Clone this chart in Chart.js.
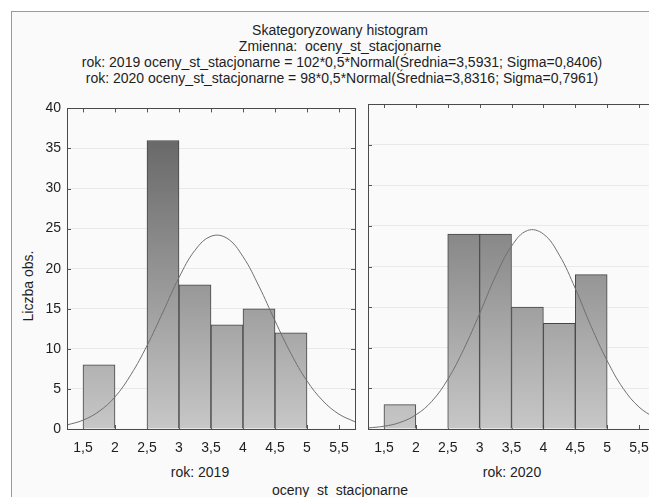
<!DOCTYPE html>
<html>
<head>
<meta charset="utf-8">
<script src="https://cdn.jsdelivr.net/npm/chart.js@4/dist/chart.umd.min.js"></script>
<style>
  html, body { margin: 0; width: 649px; height: 497px; overflow: hidden; background: #fff; }
  body { position: relative; font-family: "Liberation Sans", Arial, sans-serif; color: #1e1e1e; }
  #frame { position: absolute; left: 11px; top: 11px; width: 720px; height: 540px; border: 1px solid #9a9a9a; background: #fafafa; }
  .txt { position: absolute; font-size: 14px; white-space: nowrap; transform: translate(-50%, -50%); }
  .ylabel { transform: translate(-50%, -50%) rotate(-90deg); }
  canvas { position: absolute; top: 94px; }
  #left { left: 0; }
  #right { left: 362px; }
</style>
</head>
<body>
<div id="frame"></div>
<div class="txt" style="left:340px;top:30px">Skategoryzowany histogram</div>
<div class="txt" style="left:340px;top:46px">Zmienna:&nbsp; oceny_st_stacjonarne</div>
<div class="txt" style="left:342px;top:62px">rok: 2019 oceny_st_stacjonarne = 102*0,5*Normal(Średnia=3,5931; Sigma=0,8406)</div>
<div class="txt" style="left:342px;top:78px">rok: 2020 oceny_st_stacjonarne = 98*0,5*Normal(Średnia=3,8316; Sigma=0,7961)</div>
<div class="txt ylabel" style="left:28px;top:286px">Liczba obs.</div>
<div class="txt" style="left:200px;top:472px">rok: 2019</div>
<div class="txt" style="left:512px;top:472px">rok: 2020</div>
<div class="txt" style="left:340px;top:490px">oceny_st_stacjonarne</div>

<canvas id="left" width="362" height="370"></canvas>
<canvas id="right" width="300" height="370"></canvas>

<script>
const binCenters = [1.75, 2.25, 2.75, 3.25, 3.75, 4.25, 4.75];
const counts2019 = [8, 0, 36, 18, 13, 15, 12];
const counts2020 = [3, 0, 24, 24, 15, 13, 19];

const xTickValues = [1.5, 2, 2.5, 3, 3.5, 4, 4.5, 5, 5.5];
const yTickValues = [0, 5, 10, 15, 20, 25, 30, 35, 40];

// fitted normal curve
const curveX = [1.25, 1.5, 1.75, 2, 2.25, 2.5, 2.75, 3, 3.25, 3.5, 3.75, 4, 4.25, 4.5, 4.75, 5, 5.25, 5.5, 5.75];
const curve2019 = [0.5, 1.1, 2.2, 4.0, 6.8, 10.4, 14.6, 18.9, 22.3, 24.05, 23.8, 21.5, 17.8, 13.5, 9.4, 6.0, 3.5, 1.85, 0.9];
const curve2020 = [0.13, 0.34, 0.8, 1.74, 3.4, 6.1, 9.8, 14.2, 18.8, 22.5, 24.43, 24.0, 21.4, 17.3, 12.6, 8.4, 5.0, 2.7, 1.35];

const fmt = (v) => String(v).replace('.', ',');

const frameAndTicks = {
  id: 'frameAndTicks',
  beforeDatasetsDraw(chart) {
    const { ctx, chartArea: a, scales: { x, y } } = chart;
    ctx.save();
    ctx.strokeStyle = '#555';
    ctx.lineWidth = 1;
    ctx.beginPath();
    xTickValues.forEach((v) => {
      const px = Math.round(x.getPixelForValue(v)) + 0.5;
      ctx.moveTo(px, a.top);
      ctx.lineTo(px, a.top + 4);
      ctx.moveTo(px, a.bottom);
      ctx.lineTo(px, a.bottom - 4);
    });
    yTickValues.forEach((v) => {
      const py = Math.round(y.getPixelForValue(v)) + 0.5;
      ctx.moveTo(a.left, py);
      ctx.lineTo(a.left + 4, py);
      ctx.moveTo(a.right, py);
      ctx.lineTo(a.right - 4, py);
    });
    ctx.stroke();
    ctx.restore();
  },
  afterDatasetsDraw(chart) {
    const { ctx, chartArea: a } = chart;
    ctx.save();
    ctx.strokeStyle = '#4a4a4a';
    ctx.lineWidth = 1;
    ctx.strokeRect(Math.round(a.left) + 0.5, Math.round(a.top) + 0.5,
      Math.round(a.right - a.left), Math.round(a.bottom - a.top));
    ctx.restore();
  },
};

function barFill(context) {
  const area = context.chart.chartArea;
  if (!area) return '#999';
  const g = context.chart.ctx.createLinearGradient(0, area.top, 0, area.bottom);
  g.addColorStop(0, '#5e5e5e');
  g.addColorStop(1, '#c7c7c7');
  return g;
}

function renderPanel(canvasId, counts, curve, showYLabels, padding) {
  return new Chart(document.getElementById(canvasId), {
    type: 'bar',
    data: {
      datasets: [
        {
          type: 'line',
          data: curveX.map((x, i) => ({ x, y: curve[i] })),
          borderColor: '#707070',
          borderWidth: 1,
          pointRadius: 0,
          tension: 0.4,
          fill: false,
          order: 0,
        },
        {
          type: 'bar',
          data: binCenters.map((x, i) => ({ x, y: counts[i] })),
          backgroundColor: barFill,
          borderColor: '#454545',
          borderWidth: 1,
          barPercentage: 1,
          categoryPercentage: 1,
          order: 1,
        },
      ],
    },
    options: {
      responsive: false,
      animation: false,
      devicePixelRatio: 1,
      layout: { padding },
      plugins: { legend: { display: false }, tooltip: { enabled: false } },
      scales: {
        x: {
          type: 'linear',
          min: 1.25,
          max: 5.75,
          offset: false,
          afterBuildTicks: (scale) => { scale.ticks = xTickValues.map((value) => ({ value })); },
          afterFit: (scale) => { scale.height = 35; },
          grid: { display: false, drawTicks: false },
          border: { display: false },
          ticks: {
            autoSkip: false,
            maxRotation: 0,
            padding: 11,
            color: '#1e1e1e',
            font: { family: 'Liberation Sans', size: 14 },
            callback: (v) => fmt(v),
          },
        },
        y: {
          min: 0,
          max: 40,
          afterBuildTicks: (scale) => { scale.ticks = yTickValues.map((value) => ({ value })); },
          afterFit: (scale) => { scale.width = showYLabels ? 67 : 0; },
          grid: { color: '#e9e9e9', drawTicks: false },
          border: { display: false },
          ticks: {
            display: showYLabels,
            padding: 6,
            color: '#1e1e1e',
            font: { family: 'Liberation Sans', size: 14 },
          },
        },
      },
    },
    plugins: [frameAndTicks],
  });
}

renderPanel('left', counts2019, curve2019, true, { top: 10, right: 7, left: 0, bottom: 0 });
renderPanel('right', counts2020, curve2020, false, { top: 10, right: 7, left: 6, bottom: 0 });
</script>
</body>
</html>
